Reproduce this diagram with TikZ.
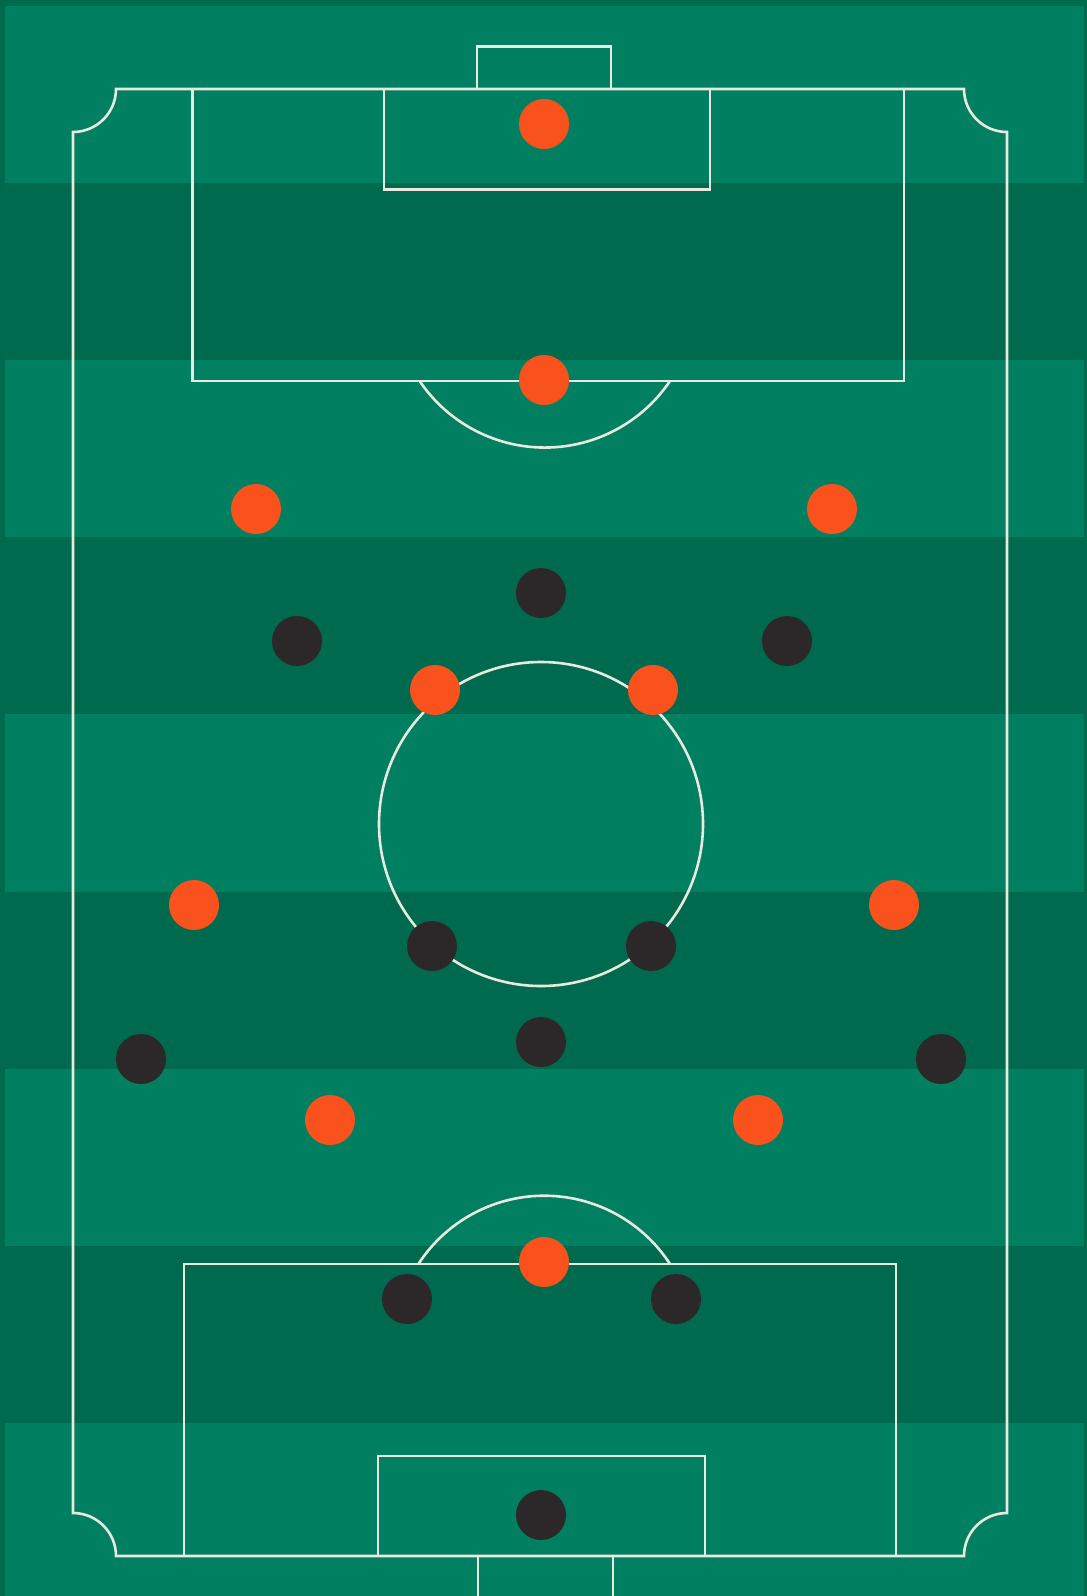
\documentclass[tikz,border=0pt]{standalone}
\definecolor{grasslight}{RGB}{0,127,97}
\definecolor{grassdark}{RGB}{0,106,79}
\definecolor{chalk}{RGB}{232,234,226}
\definecolor{homered}{RGB}{250,82,28}
\definecolor{awayblack}{RGB}{44,40,41}
\begin{document}
\begin{tikzpicture}[x=1pt,y=-1pt,
  chalkline/.style={draw=chalk,line width=2.6pt},
  homeman/.style={circle,fill=homered,minimum size=50pt,inner sep=0pt},
  awayman/.style={circle,fill=awayblack,minimum size=50pt,inner sep=0pt}]
  \useasboundingbox (0,0) rectangle (1087,1596);
  \fill[grassdark] (0,0) rectangle (1087,1596);
  \foreach \k in {0,2,4,6,8} {
    \fill[grasslight] (5,{6+177.1*\k}) rectangle (1084,{min(1596,6+177.1*(\k+1))});
  }

  % touchlines and goal lines
  \draw[chalkline] (73,132) -- (73,1513) arc[start angle=270,end angle=360,radius=43]
    -- (964,1556) arc[start angle=180,end angle=270,radius=43]
    -- (1007,132) arc[start angle=90,end angle=180,radius=43]
    -- (116,89) arc[start angle=0,end angle=90,radius=43] -- cycle;

  % top end
  \draw[chalkline] (477,89.5) |- (611,46.5) -- (611,89.5);
  \draw[chalkline] (192.5,89.5) |- (904,381) -- (904,89.5);
  \draw[chalkline] (384,89.5) |- (710,189.5) -- (710,89.5);
  \draw[chalkline] (670,381) arc[start angle=34,end angle=146,radius=151];

  % centre
  \coordinate (kickoff) at (541,824);
  \draw[chalkline] (kickoff) circle[radius=162];

  % bottom end
  \draw[chalkline] (184,1556) |- (896,1264) -- (896,1556);
  \draw[chalkline] (378,1556) |- (705,1456) -- (705,1556);
  \draw[chalkline] (478,1600) |- (613,1556) -- (613,1600);
  \draw[chalkline] (670,1264) arc[start angle=-33,end angle=-147,radius=150];

  % players
  \foreach \name/\x/\y in {hgk/544/124,hcb/544/380,hlb/256/509,hrb/832/509,
      hlm/435/690,hrm/653/690,hlw/194/905,hrw/894/905,hls/330/1120,hrs/758/1120,hcf/544/1262} {
    \node[homeman] (\name) at (\x,\y) {};
  }
  \foreach \name/\x/\y in {acf/541/593,alw/297/641,arw/787/641,
      alm/432/946,arm/651/946,adm/541/1042,alb/141/1059,arb/941/1059,
      alcb/407/1299,arcb/676/1299,agk/541/1515} {
    \node[awayman] (\name) at (\x,\y) {};
  }
\end{tikzpicture}
\end{document}
